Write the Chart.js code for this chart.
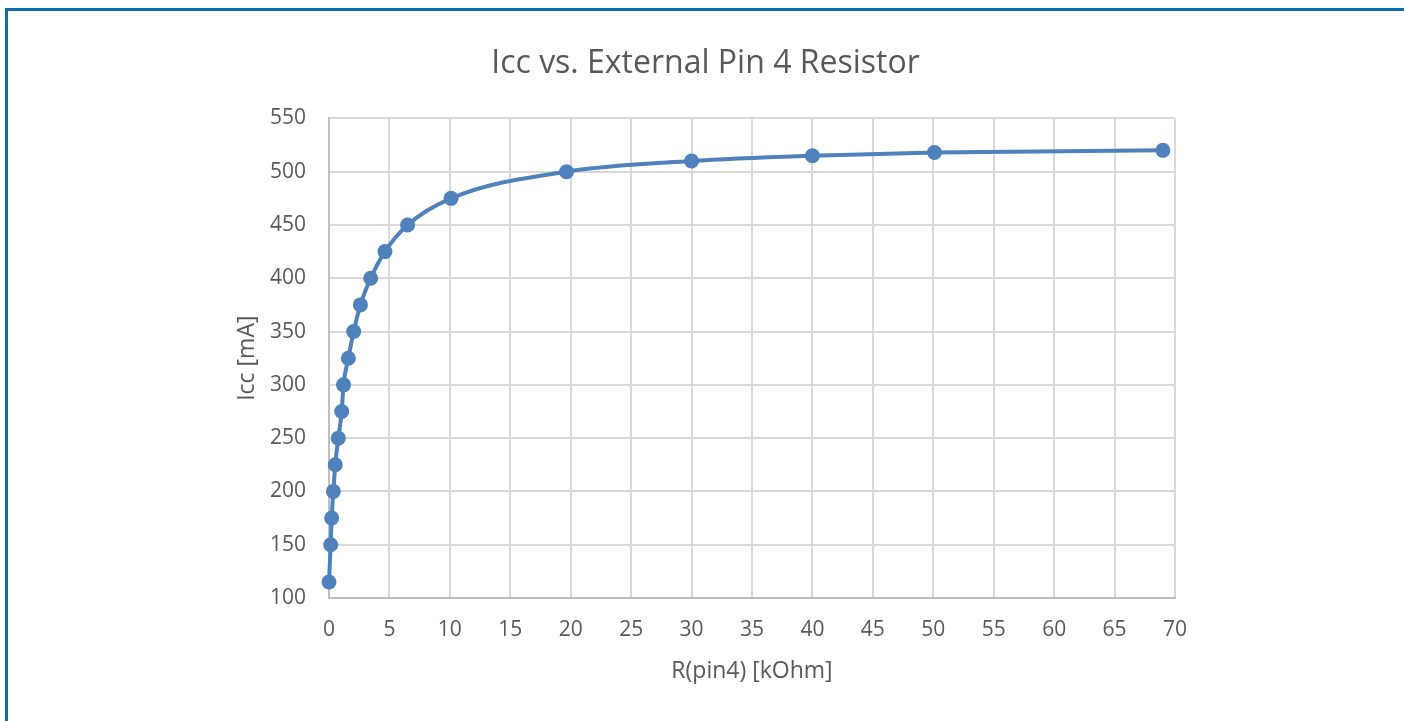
<!DOCTYPE html>
<html lang="en">
  <head>
      <meta charset="utf-8" />
      <title>Icc vs. External Pin 4 Resistor</title>
      <script src="https://cdn.jsdelivr.net/npm/chart.js@4.4.1/dist/chart.umd.min.js"></script>

      <style type='text/css'>

        html, body{
          margin: 0;
          padding: 0;
          background-color: #ffffff;
          overflow: hidden;
        }

        #chartBox{
          position: relative;
          width: 1404px;
          height: 721px;
        }

        #frame{
          position: absolute;
          left: 5px;
          top: 8px;
          width: 1500px;
          height: 800px;
          border-top: 3px solid #0a6fb0;
          border-left: 3px solid #0a6fb0;
          pointer-events: none;
        }

      </style>

  </head>
  <body>

    <div id='chartBox'>
      <canvas id="iccChart" width="1404" height="721"></canvas>
      <div id='frame'></div>
    </div>

    <script id='chartData'>
      // R(pin4) in kOhm, Icc in mA
      var resistance = [0, 0.14, 0.22, 0.36, 0.52, 0.77, 1.05, 1.2, 1.6, 2.04, 2.6, 3.45, 4.63, 6.5, 10.1, 19.65, 30, 40, 50.1, 69];
      var icc = [115, 150, 175, 200, 225, 250, 275, 300, 325, 350, 375, 400, 425, 450, 475, 500, 510, 515, 518, 520];

      var xTicks = [0, 5, 10, 15, 20, 25, 30, 35, 40, 45, 50, 55, 60, 65, 70];
      var yTicks = [100, 150, 200, 250, 300, 350, 400, 450, 500, 550];

      var points = resistance.map(function(r, i){
        return { x: r, y: icc[i] };
      });

      var textColor = '#595959';
      var gridColor = '#d9d9d9';
      var seriesColor = '#4f81bd';
      var fontFamily = "'Open Sans', 'Noto Sans', sans-serif";

      Chart.defaults.font.family = fontFamily;
      Chart.defaults.color = textColor;

      new Chart(document.getElementById("iccChart").getContext('2d'), {
          type: "scatter",
          data: {
            datasets: [
              {
                label: "Icc",
                data: points,
                showLine: true,
                clip: false,
                borderColor: seriesColor,
                backgroundColor: seriesColor,
                borderWidth: 4,
                pointRadius: 7.5,
                pointHoverRadius: 7.5,
                pointBorderWidth: 0,
                cubicInterpolationMode: 'monotone'
              }
            ]
          },
          options: {
            responsive: false,
            animation: false,
            layout: {
              // left padding also centres the title over the plot area
              padding: { left: 236, right: 229, top: 0, bottom: 0 }
            },
            plugins: {
              legend: { display: false },
              tooltip: { enabled: false },
              title: {
                display: true,
                text: 'Icc vs. External Pin 4 Resistor',
                color: textColor,
                font: { size: 32, weight: 'normal' },
                padding: { top: 45, bottom: 35 }
              }
            },
            scales: {
              x: {
                type: 'linear',
                min: 0,
                max: 70,
                afterBuildTicks: function(scale){
                  scale.ticks = xTicks.map(function(v){ return { value: v }; });
                },
                afterFit: function(scale){
                  scale.height = 123;
                },
                grid: { color: gridColor, lineWidth: 2, drawTicks: false },
                border: { color: '#bfbfbf', width: 2 },
                ticks: { color: textColor, font: { size: 21 }, padding: 19, maxRotation: 0 },
                title: {
                  display: true,
                  text: 'R(pin4) [kOhm]',
                  color: textColor,
                  font: { size: 23 },
                  padding: { top: 0, bottom: 36 }
                }
              },
              y: {
                type: 'linear',
                min: 100,
                max: 550,
                afterBuildTicks: function(scale){
                  scale.ticks = yTicks.map(function(v){ return { value: v }; });
                },
                afterFit: function(scale){
                  scale.width = 93;
                },
                grid: { color: gridColor, lineWidth: 2, drawTicks: false },
                border: { color: '#bfbfbf', width: 2 },
                ticks: { color: textColor, font: { size: 21 }, padding: 23 },
                title: {
                  display: true,
                  text: 'Icc [mA]',
                  color: textColor,
                  font: { size: 23 },
                  padding: { top: -2, bottom: 0 }
                }
              }
            }
          }
      });

    </script>

  </body>
</html>
